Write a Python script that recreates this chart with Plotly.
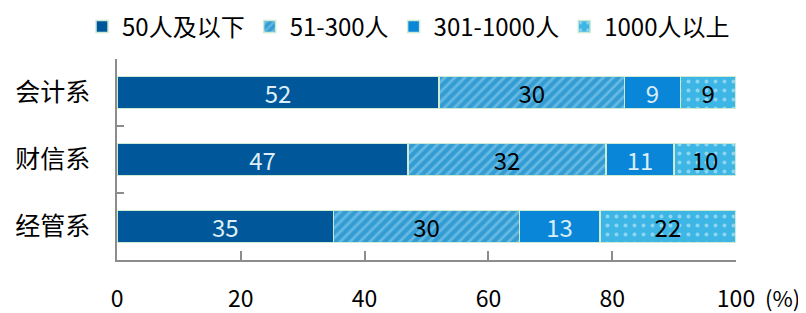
import plotly.graph_objects as go

categories = ["会计系", "财信系", "经管系"]
series_names = ["50人及以下", "51-300人", "301-1000人", "1000人以上"]
v_50 = [52, 47, 35]
v_300 = [30, 32, 30]
v_1000 = [9, 11, 13]
v_over = [9, 10, 22]
x_ticks = [0, 20, 40, 60, 80, 100]
x_tick_text = ["0", "20", "40", "60", "80", "100"]

FONT = "Noto Sans CJK SC, Noto Sans, sans-serif"
values = [v_50, v_300, v_1000, v_over]
styles = [
    dict(color="#00579A", pattern=None, tc="#DDEEF6"),
    dict(color="#3AA2D6", pattern=dict(shape="/", fgcolor="#9AD6F1", bgcolor="#339CD3", size=7, solidity=0.4), tc="#000000"),
    dict(color="#0A86D8", pattern=None, tc="#D8EEF4"),
    dict(color="#3DB6E6", pattern=dict(shape=".", fgcolor="#DDF3FB", bgcolor="#3DB6E6", size=9, solidity=0.15), tc="#000000"),
]

fig = go.Figure()
for name, vals, st in zip(series_names, values, styles):
    marker = dict(color=st["color"], line=dict(color="#CDEBD3", width=1.5))
    if st["pattern"]:
        marker["pattern"] = st["pattern"]
    fig.add_trace(go.Bar(
        y=categories, x=vals, name=name, orientation="h",
        marker=marker, text=[str(v) for v in vals], textposition="inside",
        insidetextanchor="middle", textangle=0, constraintext="none",
        textfont=dict(family=FONT, size=24, color=st["tc"]),
    ))

# page body has an 8px default margin, so the figure is sized to fit inside it
fig.update_layout(
    barmode="stack",
    bargap=0.52,
    width=798, height=305,
    margin=dict(l=109, r=70, t=51, b=53, autoexpand=False),
    plot_bgcolor="white", paper_bgcolor="white",
    font=dict(family=FONT, size=22, color="#000000"),
    legend=dict(orientation="h", x=-0.0565, xanchor="left",
                y=1.16, yanchor="middle",
                font=dict(family=FONT, size=24), traceorder="normal",
                itemwidth=30, tracegroupgap=0),
)
fig.update_xaxes(
    range=[0, 100], tickvals=x_ticks, ticktext=x_tick_text,
    showline=True, linecolor="#8C8C8C", linewidth=1.5,
    ticks="inside", ticklen=9, tickcolor="#8C8C8C", tickwidth=1.5,
    showgrid=False, zeroline=False, automargin=False,
    tickfont=dict(family=FONT, size=23), ticklabelstandoff=18,
)
fig.update_yaxes(
    categoryorder="array", categoryarray=categories, autorange="reversed",
    showline=True, linecolor="#8C8C8C", linewidth=1.5,
    ticks="inside", tickson="boundaries", ticklen=7, tickcolor="#8C8C8C", tickwidth=1.5,
    showgrid=False, zeroline=False, automargin=False,
    tickfont=dict(family=FONT, size=25), ticklabelstandoff=20,
)
fig.add_annotation(x=100, y=0, xref="x", yref="paper", text="(%)", showarrow=False,
                   xanchor="left", yanchor="middle", xshift=27, yshift=-37,
                   font=dict(family=FONT, size=22))

fig.write_html("out.html")
